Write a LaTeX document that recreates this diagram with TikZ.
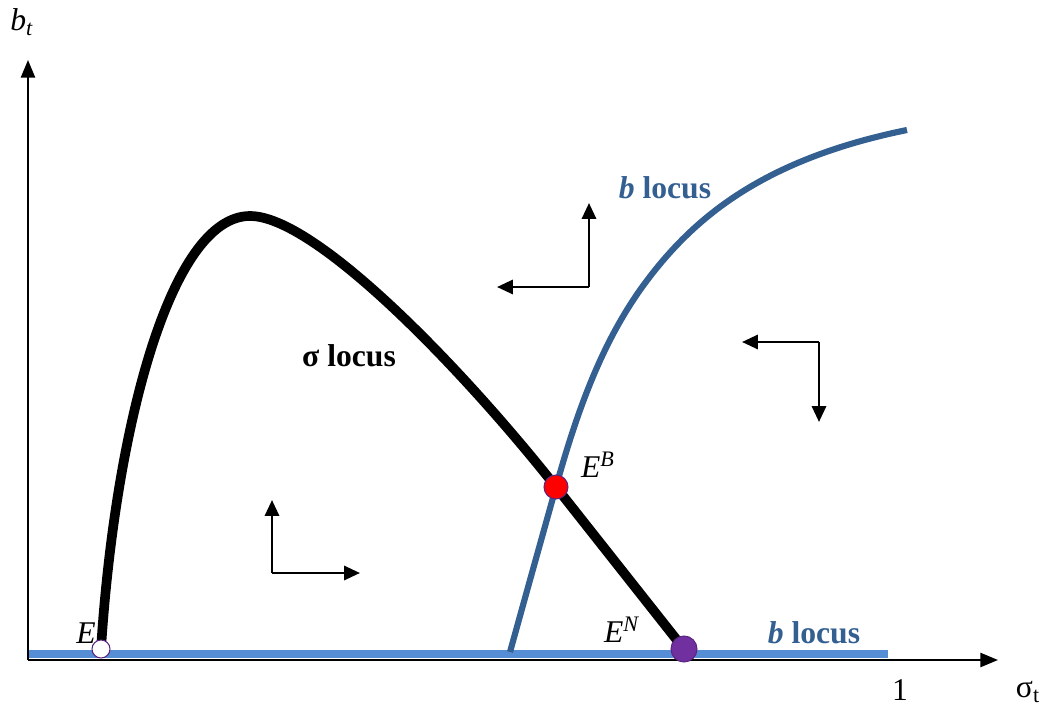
\documentclass[tikz,border=0pt]{standalone}
\usepackage{fontspec}
\setmainfont{Liberation Serif}
\usetikzlibrary{arrows.meta}
\definecolor{LocusBlue}{RGB}{52,95,145}
\definecolor{FloorBlue}{RGB}{85,142,213}
\definecolor{DotPurple}{RGB}{112,48,160}

\begin{document}
\begin{tikzpicture}[x=0.02cm, y=-0.02cm,
  axis/.style={line width=1.2pt, -{Triangle[length=10pt, width=8pt]}},
  move/.style={line width=1.5pt, -{Triangle[length=9pt, width=8pt]}},
  lbl/.style={font=\fontsize{18}{20}\selectfont, inner sep=0pt},
  dot/.style={circle, draw=DotPurple!80!black, line width=0.6pt, inner sep=0pt}]
  \useasboundingbox (0,0) rectangle (1049,710);

  % axes
  \coordinate (O) at (28,660);
  \coordinate (xend) at (998,660);
  \coordinate (yend) at (28,60);
  \draw[FloorBlue, line width=4pt] (28,654) -- (888,654);
  \draw[axis] (O) -- (xend);
  \draw[axis] (O) -- (yend);

  % loci
  \coordinate (Epos) at (101,649);
  \coordinate (top) at (250,216);
  \coordinate (EBpos) at (556,487);
  \coordinate (ENpos) at (684,649);
  \coordinate (bfoot) at (510,652);
  \coordinate (bmid) at (640,290);
  \coordinate (bend) at (907,130);
  \draw[line width=5.5pt] (Epos) .. controls (115,430) and (170,216) .. (top)
    .. controls (315,216) and (461,367) .. (EBpos) -- (ENpos);
  \draw[LocusBlue, line width=3.5pt] (bfoot) .. controls (530,580) .. (EBpos)
    .. controls (580,400) and (605,340) .. (bmid)
    .. controls (690,220) and (760,160) .. (bend);

  % equilibria
  \node[dot, fill=white, minimum size=0.36cm] (E) at (Epos) {};
  \node[dot, fill=red, minimum size=0.48cm] (EB) at (EBpos) {};
  \node[dot, fill=DotPurple, minimum size=0.52cm] (EN) at (ENpos) {};

  % labels
  \node[lbl] (bt) at (22,22) {\textit{b}\textsubscript{\textit{t}}};
  \node[lbl] (one) at (900,690) {1};
  \node[lbl] (sigt) at (1028,692) {σ\textsubscript{t}};
  \node[lbl] (Elbl) at (86,633) {\textit{E}};
  \node[lbl] (EBlbl) at (598,465) {\textit{E}\textsuperscript{\textit{B}}};
  \node[lbl] (ENlbl) at (622,630) {\textit{E}\textsuperscript{\textit{N}}};
  \node[lbl] (siglocus) at (349,356) {\textbf{σ locus}};
  \node[lbl, LocusBlue] (blocus) at (665,188) {\textbf{\textit{b} locus}};
  \node[lbl, LocusBlue] (blocus2) at (814,633) {\textbf{\textit{b} locus}};

  % directions of motion
  \coordinate (c1) at (589,287);
  \coordinate (c1l) at (497,287);
  \coordinate (c1u) at (589,203);
  \draw[move] (c1) -- (c1l);
  \draw[move] (c1) -- (c1u);

  \coordinate (c2) at (819,342);
  \coordinate (c2l) at (742,342);
  \coordinate (c2d) at (819,422);
  \draw[move] (c2) -- (c2l);
  \draw[move] (c2) -- (c2d);

  \coordinate (c3) at (272,573);
  \coordinate (c3u) at (272,500);
  \coordinate (c3r) at (360,573);
  \draw[move] (c3) -- (c3u);
  \draw[move] (c3) -- (c3r);
\end{tikzpicture}
\end{document}
